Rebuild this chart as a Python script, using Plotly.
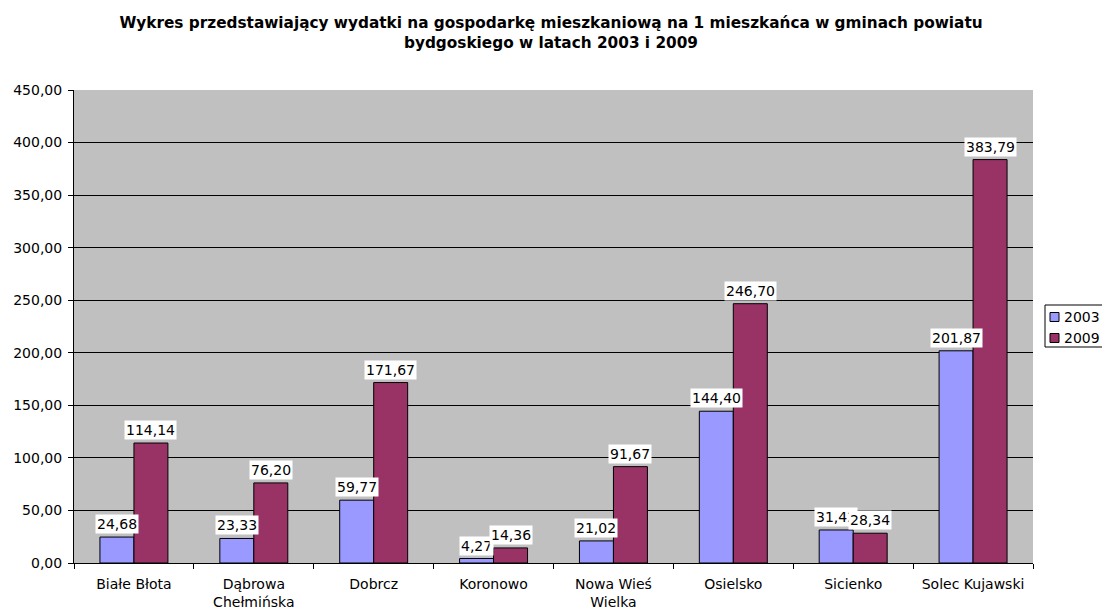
import plotly.graph_objects as go

# dane z wykresu
gminy = ["Białe Błota", "Dąbrowa<br>Chełmińska", "Dobrcz", "Koronowo",
         "Nowa Wieś<br>Wielka", "Osielsko", "Sicienko", "Solec Kujawski"]
lata = ["2003", "2009"]
wyd_2003 = [24.68, 23.33, 59.77, 4.27, 21.02, 144.40, 31.42, 201.87]
wyd_2009 = [114.14, 76.20, 171.67, 14.36, 91.67, 246.70, 28.34, 383.79]
kolory = ["#9999FF", "#993366"]
y_ticks = [0, 50, 100, 150, 200, 250, 300, 350, 400, 450]

font = "DejaVu Sans, sans-serif"
W, H = 1102, 610
L, R, T, B = 74, 69, 90, 47


def fmt(v):
    return f"{v:.2f}".replace(".", ",")


fig = go.Figure()
for rok, seria, kol in zip(lata, [wyd_2003, wyd_2009], kolory):
    fig.add_trace(go.Bar(x=gminy, y=seria, name=rok, showlegend=False,
                         marker=dict(color=kol, line=dict(color="#000000", width=1))))

# etykiety wartości z białym tłem
annotations = []
for seria, shift in ((wyd_2003, -17), (wyd_2009, 17)):
    for g, v in zip(gminy, seria):
        annotations.append(dict(x=g, y=v, xref="x", yref="y", text=fmt(v),
                                showarrow=False, xshift=shift, yshift=3,
                                yanchor="bottom", bgcolor="white", borderpad=1,
                                font=dict(family=font, size=14, color="black")))

# legenda rysowana ręcznie (w oryginale wychodzi poza prawą krawędź)
pw, ph = W - L - R, H - T - B
px_x = lambda p: (p - L) / pw
px_y = lambda p: (H - B - p) / ph
shapes = [dict(type="rect", xref="paper", yref="paper",
               x0=px_x(1045), x1=px_x(1110), y0=px_y(347), y1=px_y(305),
               line=dict(color="black", width=1), fillcolor="white", layer="above")]
for i, (rok, kol) in enumerate(zip(lata, kolory)):
    yc = 317 + i * 21
    shapes.append(dict(type="rect", xref="paper", yref="paper",
                       x0=px_x(1050), x1=px_x(1059), y0=px_y(yc + 4.5), y1=px_y(yc - 4.5),
                       line=dict(color="black", width=1), fillcolor=kol, layer="above"))
    annotations.append(dict(x=px_x(1062), y=px_y(yc), xref="paper", yref="paper",
                            text=rok, showarrow=False, xanchor="left", yanchor="middle",
                            font=dict(family=font, size=14, color="black")))

fig.update_layout(
    width=W, height=H,
    margin=dict(l=L, r=R, t=T, b=B, autoexpand=False),
    paper_bgcolor="white", plot_bgcolor="#C0C0C0",
    title=dict(text="<b>Wykres przedstawiający wydatki na gospodarkę mieszkaniową na 1 mieszkańca w gminach powiatu<br>bydgoskiego w latach 2003 i 2009</b>",
               x=0.5, xanchor="center", xref="container",
               y=1 - 28 / H, yanchor="middle", yref="container",
               font=dict(family=font, size=15.3, color="black")),
    barmode="group", bargap=0.433, bargroupgap=0,
    font=dict(family=font, size=14, color="black"),
    showlegend=False,
    annotations=annotations,
    shapes=shapes,
)
fig.update_xaxes(showline=True, linecolor="black", linewidth=1, ticks="outside",
                 tickson="boundaries", ticklen=5, tickcolor="black", showgrid=False,
                 automargin=False, ticklabelstandoff=8,
                 tickfont=dict(family=font, size=14))
fig.update_yaxes(range=[0, 450], tickvals=y_ticks, ticktext=[fmt(t) for t in y_ticks],
                 showline=True, linecolor="black", linewidth=1, ticks="outside",
                 ticklen=5, tickcolor="black", gridcolor="#000000", gridwidth=1,
                 zeroline=False, automargin=False, ticklabelstandoff=3,
                 tickfont=dict(family=font, size=14))

# strona bez domyślnego marginesu, żeby wykres zaczynał się w (0, 0)
fig.write_html("out.html", config={"displayModeBar": False},
               post_script="document.body.style.margin='0';")
